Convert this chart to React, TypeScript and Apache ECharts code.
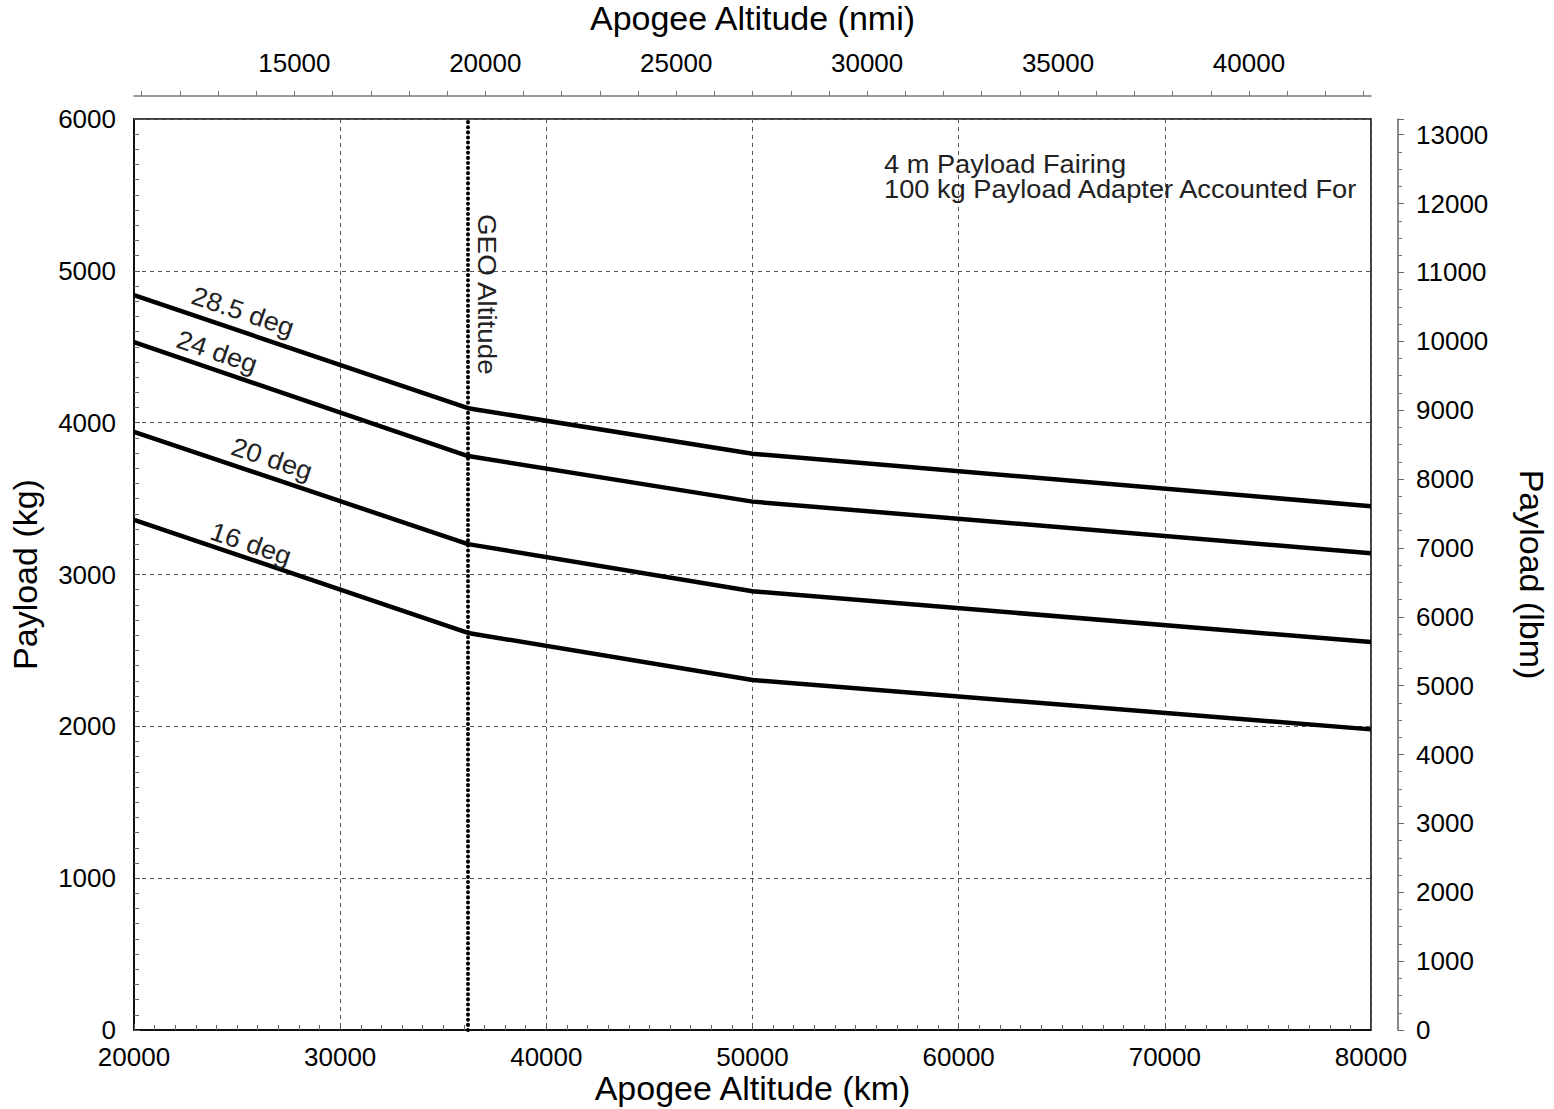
import React, { useEffect, useRef } from "react";
import * as echarts from "echarts";

// ---- data ----
const altitudeKm = [20000, 36200, 50000, 80000];
const payload285 = [4840, 4095, 3795, 3450];
const payload24 = [4530, 3780, 3480, 3140];
const payload20 = [3940, 3200, 2890, 2555];
const payload16 = [3360, 2615, 2305, 1980];
const seriesNames = ["28.5 deg", "24 deg", "20 deg", "16 deg"];
const geoAltitudeKm = 36200;

// label anchor points (data coords)
const labelKm = [25284, 24024, 26690, 25672];
const labelKg = [4724, 4460, 3755, 3195];

const kmTicks = [20000, 30000, 40000, 50000, 60000, 70000, 80000];
const kgTicks = [0, 1000, 2000, 3000, 4000, 5000, 6000];
const nmiTicks = [15000, 20000, 25000, 30000, 35000, 40000];
const lbmTicks = [0, 1000, 2000, 3000, 4000, 5000, 6000, 7000, 8000, 9000, 10000, 11000, 12000, 13000];

const KM_PER_NMI = 1.852;
const LBM_PER_KG = 2.20462;

const FONT = "'Liberation Sans', Arial, Helvetica, sans-serif";
const plain = (v: number) => String(Math.round(v));

export default function App() {
  const ref = useRef<HTMLDivElement>(null);
  useEffect(() => {
    if (!ref.current) return;
    const chart = echarts.init(ref.current, undefined, { renderer: "svg" });
    const kmMin = kmTicks[0];
    const kmMax = kmTicks[kmTicks.length - 1];
    const kgMax = kgTicks[kgTicks.length - 1];
    const nmiMin = kmMin / KM_PER_NMI;
    const nmiMax = kmMax / KM_PER_NMI;
    const nmiAllTicks: number[] = [];
    for (let v = Math.ceil(nmiMin / 1000) * 1000; v <= nmiMax; v += 1000) nmiAllTicks.push(v);

    const allSeries = [payload285, payload24, payload20, payload16];
    const labelStyle = { color: "#000", fontSize: 26, lineHeight: 26, fontFamily: FONT, formatter: plain };

    chart.setOption({
      animation: false,
      backgroundColor: "#fff",
      textStyle: { fontFamily: FONT },
      grid: {
        left: 134,
        top: 119,
        right: 183,
        bottom: 79,
        show: true,
        borderColor: "#000",
        borderWidth: 1.5,
        backgroundColor: "transparent",
        outerBoundsMode: "none",
      },
      xAxis: [
        {
          type: "value",
          position: "bottom",
          min: kmMin,
          max: kmMax,
          interval: 10000,
          axisLine: { show: true, onZero: false, lineStyle: { color: "#000", width: 1.5 } },
          axisTick: { show: true, inside: true, length: 6, lineStyle: { color: "#555" } },
          minorTick: { show: true, splitNumber: 10, length: 5, lineStyle: { color: "#666" } },
          axisLabel: { ...labelStyle, lineHeight: 24, margin: 15 },
          splitLine: { show: true, lineStyle: { color: "#555", type: [4, 4], width: 1 } },
          name: "Apogee Altitude (km)",
          nameLocation: "middle",
          nameGap: 41,
          nameMoveOverlap: false,
          nameTextStyle: { color: "#000", fontSize: 34, lineHeight: 34, fontFamily: FONT },
        },
        {
          type: "value",
          position: "top",
          offset: 23,
          min: nmiMin,
          max: nmiMax,
          axisLine: { show: true, onZero: false, lineStyle: { color: "#777", width: 1.5 } },
          axisTick: { show: true, inside: false, length: 5, customValues: nmiAllTicks, lineStyle: { color: "#777" } },
          axisLabel: { ...labelStyle, margin: 20, customValues: nmiTicks },
          splitLine: { show: false },
          name: "Apogee Altitude (nmi)",
          nameLocation: "middle",
          nameGap: 60,
          nameTextStyle: { color: "#000", fontSize: 34, lineHeight: 36, fontFamily: FONT },
        },
      ],
      yAxis: [
        {
          type: "value",
          position: "left",
          min: 0,
          max: kgMax,
          interval: 1000,
          axisLine: { show: true, onZero: false, lineStyle: { color: "#000", width: 1.5 } },
          axisTick: { show: true, inside: true, length: 6, lineStyle: { color: "#555" } },
          minorTick: { show: true, splitNumber: 10, length: 5, lineStyle: { color: "#666" } },
          axisLabel: { ...labelStyle, lineHeight: 24, margin: 18 },
          splitLine: { show: true, lineStyle: { color: "#555", type: [4, 4], width: 1 } },
          name: "Payload (kg)",
          nameLocation: "middle",
          nameGap: 92,
          nameTextStyle: { color: "#000", fontSize: 34, fontFamily: FONT },
        },
        {
          type: "value",
          position: "right",
          offset: 27,
          min: 0,
          max: kgMax * LBM_PER_KG,
          interval: 1000,
          axisLine: { show: true, onZero: false, lineStyle: { color: "#666", width: 1.5 } },
          axisTick: { show: true, inside: false, length: 6, lineStyle: { color: "#666" } },
          minorTick: { show: true, splitNumber: 4, length: 4, lineStyle: { color: "#777" } },
          axisLabel: { ...labelStyle, lineHeight: 24, margin: 18, customValues: lbmTicks },
          splitLine: { show: false },
          name: "Payload (lbm)",
          nameLocation: "middle",
          nameGap: 117,
          nameRotate: -90,
          nameTextStyle: { color: "#000", fontSize: 34, fontFamily: FONT },
        },
      ],
      series: allSeries.map((vals, i) => ({
        type: "line",
        name: seriesNames[i],
        xAxisIndex: 0,
        yAxisIndex: 0,
        data: altitudeKm.map((x, j) => [x, vals[j]]),
        showSymbol: false,
        symbol: "none",
        lineStyle: { color: "#000", width: 4.5 },
        z: 3,
        ...(i === 0
          ? {
              markLine: {
                silent: true,
                symbol: "none",
                label: { show: false },
                lineStyle: { color: "#000", width: 4, type: [0.1, 5], cap: "round" },
                data: [{ xAxis: geoAltitudeKm }],
              },
            }
          : {}),
      })),
    });

    // annotations positioned from data coordinates
    const graphics: any[] = [];
    allSeries.forEach((vals, i) => {
      const p0 = chart.convertToPixel({ gridIndex: 0 }, [altitudeKm[0], vals[0]]) as number[];
      const p1 = chart.convertToPixel({ gridIndex: 0 }, [altitudeKm[1], vals[1]]) as number[];
      const ang = Math.atan2(p1[1] - p0[1], p1[0] - p0[0]);
      const c = chart.convertToPixel({ gridIndex: 0 }, [labelKm[i], labelKg[i]]) as number[];
      graphics.push({
        type: "text",
        x: c[0],
        y: c[1] - 1,
        rotation: -ang,
        scaleX: 1.05,
        style: {
          text: seriesNames[i],
          fontSize: 26,
          fontFamily: FONT,
          fill: "#222",
          align: "center",
          verticalAlign: "middle",
        },
        z: 10,
      });
    });
    const geoTop = chart.convertToPixel({ gridIndex: 0 }, [geoAltitudeKm, kgMax]) as number[];
    graphics.push({
      type: "text",
      x: geoTop[0] + 19,
      y: geoTop[1] + 95,
      rotation: -Math.PI / 2,
      scaleX: 1.07,
      style: {
        text: "GEO Altitude",
        fontSize: 26,
        fontFamily: FONT,
        fill: "#222",
        align: "left",
        verticalAlign: "middle",
      },
      z: 10,
    });
    const noteLines = ["4 m Payload Fairing", "100 kg Payload Adapter Accounted For"];
    noteLines.forEach((t, k) => {
      graphics.push({
        type: "text",
        x: 884,
        y: 164.5 + k * 25,
        scaleX: 1.09,
        style: {
          text: t,
          fontSize: 25,
          lineHeight: 25,
          fontFamily: FONT,
          fill: "#222",
          align: "left",
          verticalAlign: "middle",
        },
        z: 10,
      });
    });
    chart.setOption({ graphic: graphics });

    return () => chart.dispose();
  }, []);
  return (
    <div
      ref={ref}
      style={{ position: "absolute", left: 0, top: 0, width: 1554, height: 1109, background: "#fff" }}
    />
  );
}
